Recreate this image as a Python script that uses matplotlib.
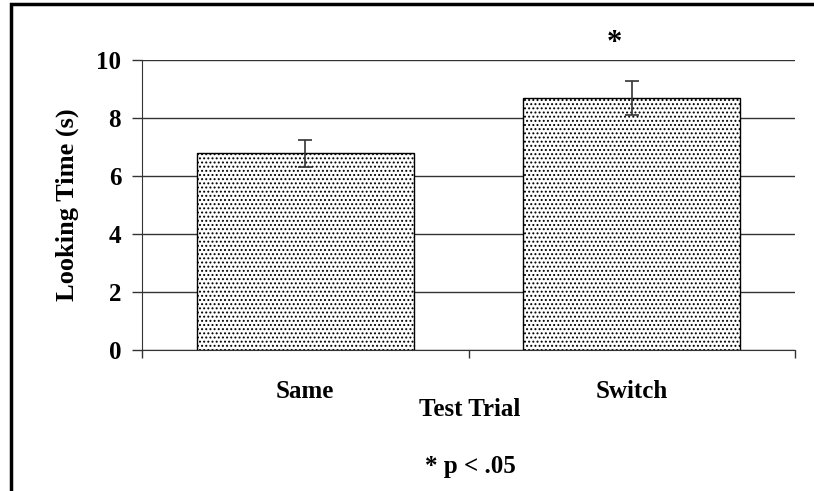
import matplotlib
matplotlib.use("Agg")
from matplotlib import pyplot as plt
from matplotlib.patches import Rectangle

categories = ["Same", "Switch"]
means = [6.78, 8.68]
errors = [0.46, 0.58]
yticks = [0, 2, 4, 6, 8, 10]

plt.rcParams['font.family'] = ['Liberation Serif', 'DejaVu Serif']
plt.rcParams['font.weight'] = 'bold'
plt.rcParams['hatch.linewidth'] = 0.9
plt.rcParams['hatch.color'] = '#444444'

fig = plt.figure(figsize=(8.14, 4.91), dpi=100)
ax = fig.add_axes([142 / 814, 1 - 350 / 491, (795 - 142) / 814, 290 / 491])

# frame round the whole picture (left and top edges show)
fig.patches.append(Rectangle((11 / 814, -0.05), 1.2, 1 - 4 / 491 + 0.05,
                             transform=fig.transFigure, fill=False,
                             edgecolor='black', linewidth=2.5, zorder=10))

x = list(range(len(categories)))
ax.bar(x, means, width=0.665, color='white', edgecolor='black',
       linewidth=1.0, hatch='....', zorder=2)
ax.errorbar(x, means, yerr=errors, fmt='none', ecolor='#333333',
            elinewidth=1.2, capsize=5, capthick=1.2, zorder=3)

ax.set_xlim(-0.5, 1.5)
ax.set_ylim(0, 10)
ax.set_yticks(yticks)
ax.set_yticklabels([str(t) for t in yticks], fontsize=18, fontweight='bold')
ax.yaxis.grid(True, color='#333333', linewidth=1.0)
ax.set_axisbelow(True)
ax.set_xticks([-0.5, 0.5, 1.5])
ax.set_xticklabels([])
ax.tick_params(axis='y', direction='out', length=7, width=1, pad=8, color='#333333')
ax.tick_params(axis='x', direction='out', length=6, width=1, color='#333333')
for side in ['top', 'right']:
    ax.spines[side].set_visible(False)
for side in ['left', 'bottom']:
    ax.spines[side].set_color('#333333')

ax.set_ylabel("Looking Time (s)", fontsize=19, fontweight='bold', labelpad=12)

for xi, name in zip(x, categories):
    fig.text((142 + (xi + 0.5) * 326.5) / 814, 1 - 392 / 491, name,
             ha='center', va='center', fontsize=18, fontweight='bold')
fig.text(470 / 814, 1 - 410 / 491, "Test Trial", ha='center', va='center',
         fontsize=18, fontweight='bold')
fig.text(470 / 814, 1 - 466 / 491, "* p < .05", ha='center', va='center',
         fontsize=18, fontweight='bold')
fig.text(614 / 814, 1 - 44 / 491, "*", ha='center', va='center',
         fontsize=22, fontweight='bold')

fig.savefig("out.png", dpi=100)
